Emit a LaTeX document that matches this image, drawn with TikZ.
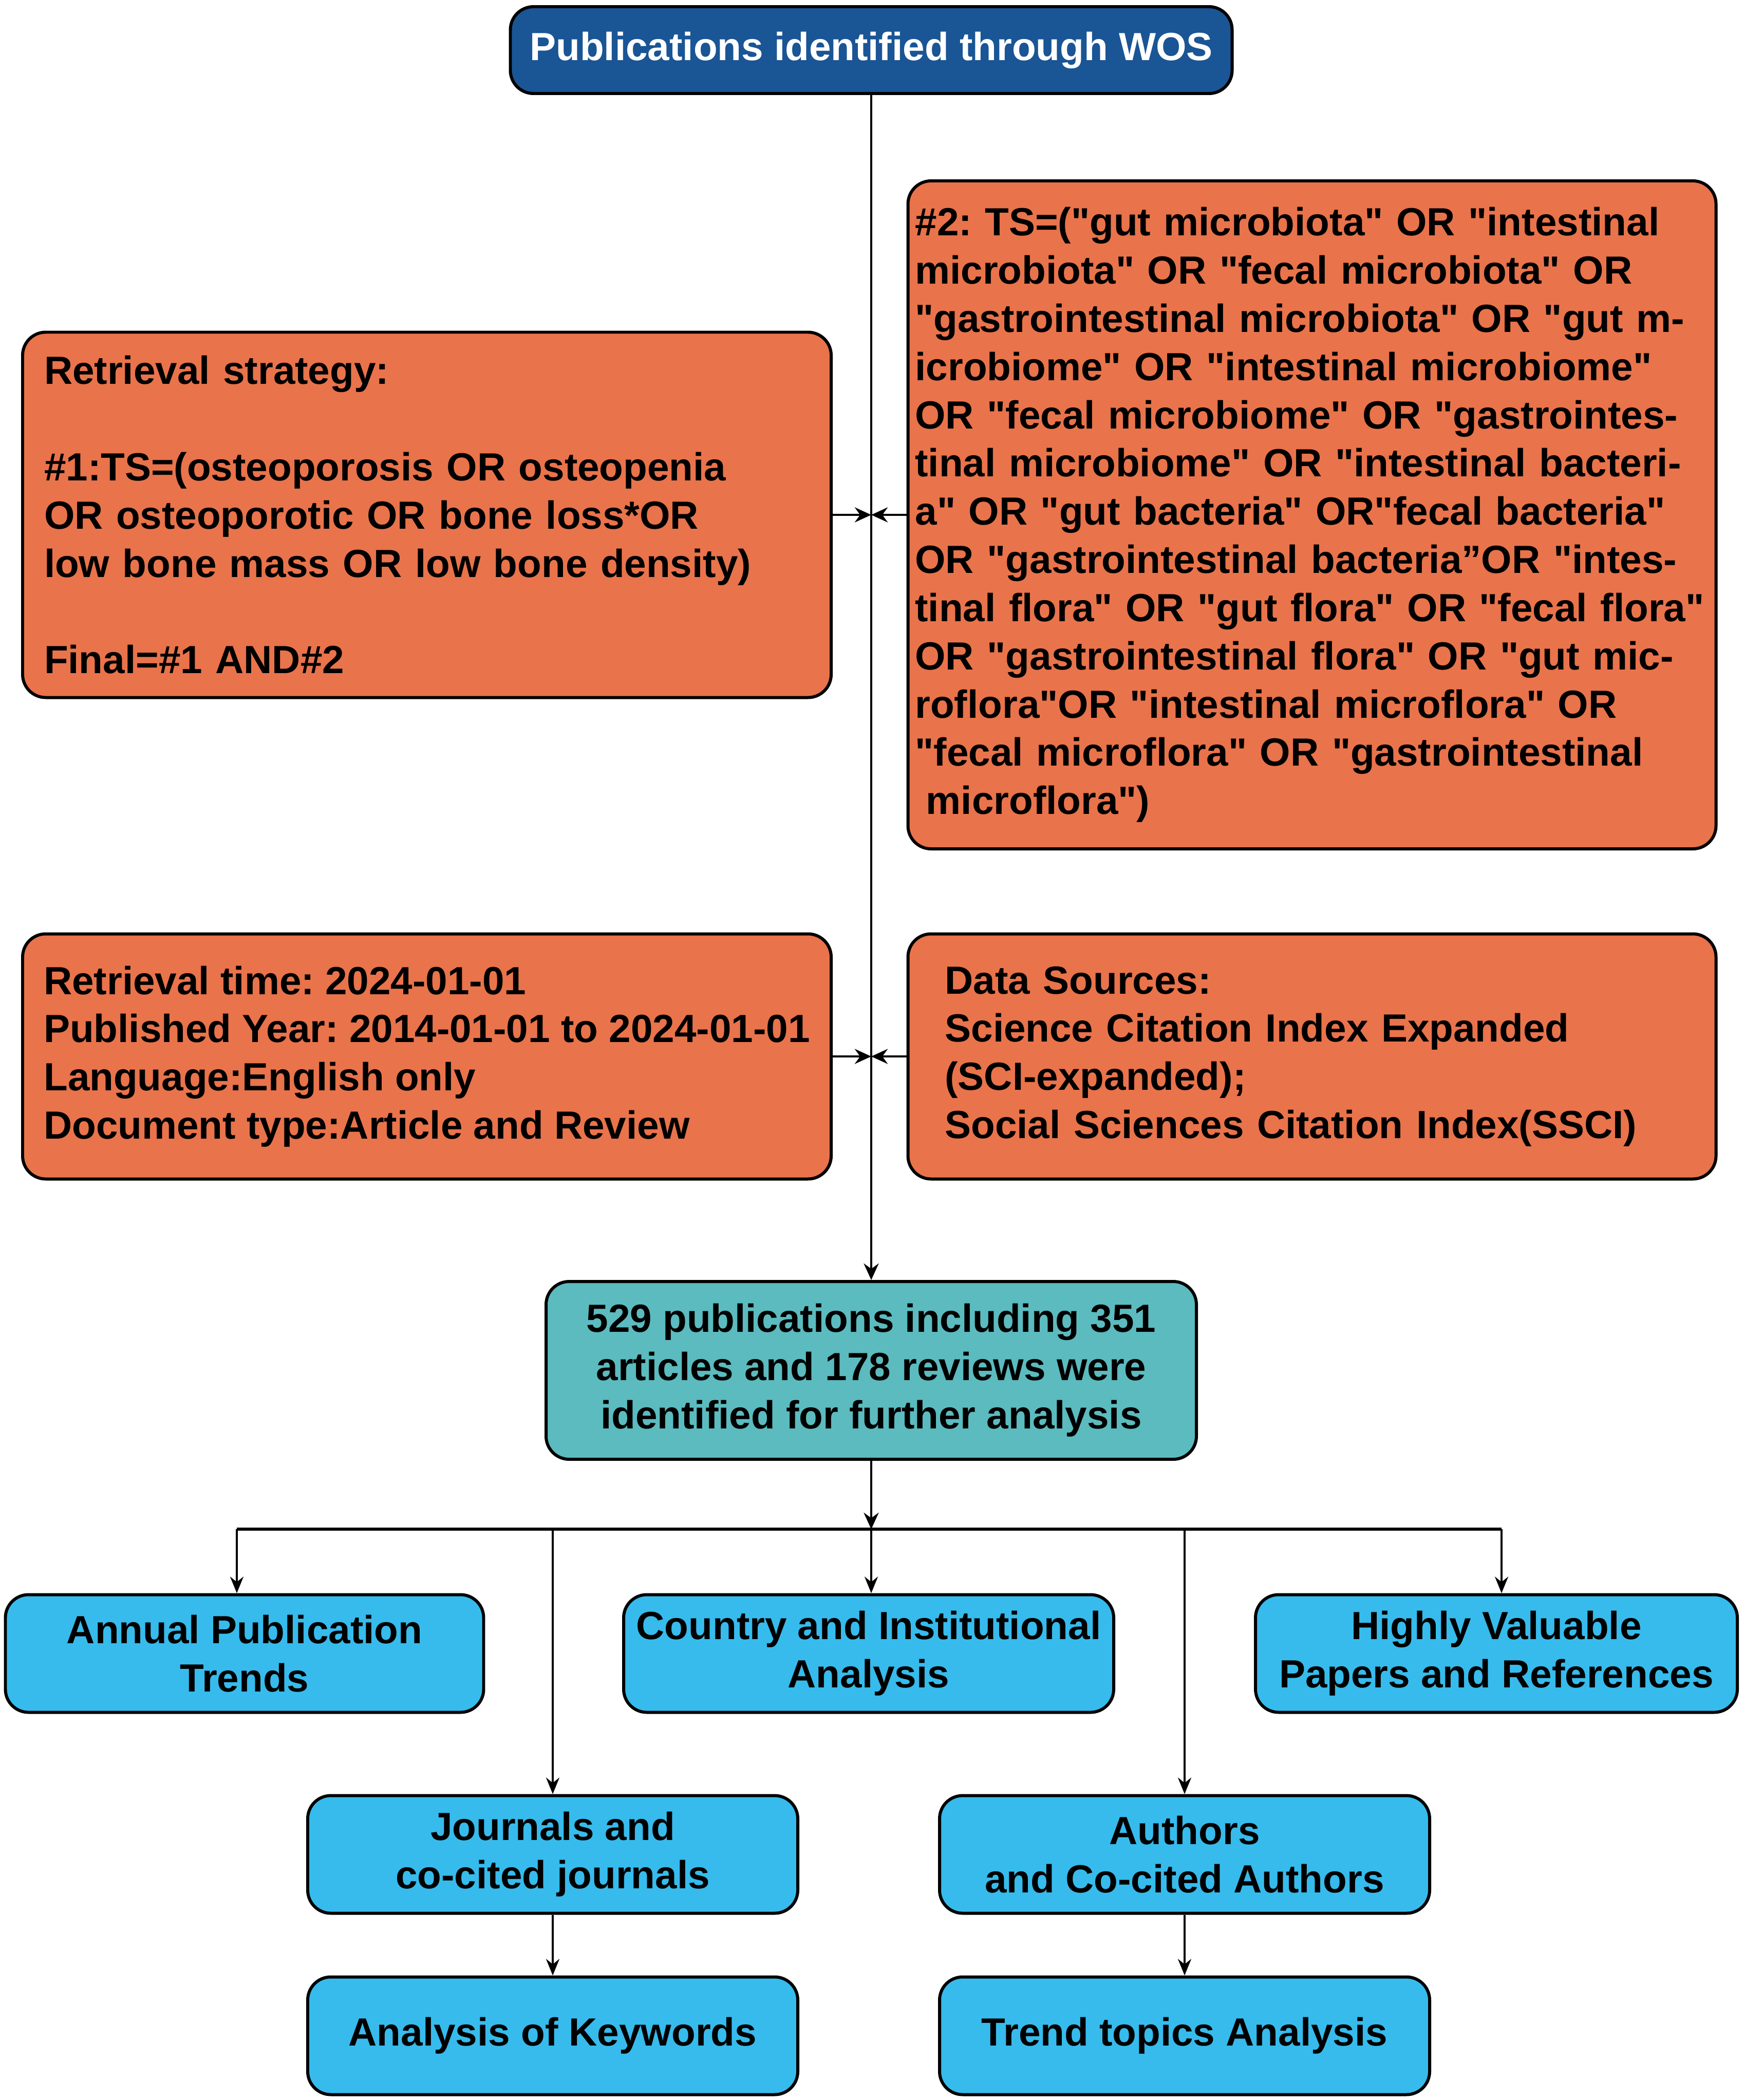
\documentclass[tikz,border=0pt]{standalone}
\usepackage{fontspec}
\newfontfamily\arialfont{Liberation Sans}
\usepackage{xcolor}
\usepackage{tikz}
\usetikzlibrary{shapes.geometric, arrows.meta, positioning, calc}
\definecolor{wosblue}{HTML}{1A5595}
\definecolor{searchorange}{HTML}{E9734B}
\definecolor{resultteal}{HTML}{5BBBBF}
\definecolor{topicblue}{HTML}{36BBEC}
\tikzstyle{basebox} = [rectangle,
rounded corners=0.45cm,
draw=black,
line width=1.7pt,
font=\arialfont\fontsize{21.75}{26.7}\selectfont\bfseries\frenchspacing]
\tikzstyle{wosbox} = [basebox,
minimum width=14.05cm,
minimum height=1.69cm,
fill=wosblue, text=white]
\tikzstyle{searchbox} = [basebox,
align=left,
inner ysep=0pt,
fill=searchorange]
\tikzstyle{resultbox} = [basebox,
minimum width=12.66cm,
minimum height=3.46cm,
align=center,
fill=resultteal]
\tikzstyle{topicbox} = [basebox,
minimum width=9.54cm,
minimum height=2.29cm,
inner sep=0pt,
align=center,
fill=topicblue]
\tikzstyle{arrow} = [line width=1.4pt,-{Stealth[length=0.32cm,width=0.29cm]}]
\tikzstyle{thinarrow} = [line width=1.1pt,-{Stealth[length=0.32cm,width=0.26cm]}]
\tikzstyle{busline} = [line width=1.6pt]

\begin{document}
\begin{tikzpicture}
                \useasboundingbox (0,0) rectangle (33.95,-40.87);
                \node (wos) [wosbox] at (16.96,-0.975) {Publications identified through WOS};
                \node (strat) [searchbox, text width=14.9cm, inner xsep=0.42cm, minimum height=7.11cm] at (8.31,-10.02)
                    {Retrieval strategy:\\[26.7pt]\#1:TS=(osteoporosis OR osteopenia\\OR osteoporotic OR bone loss*OR\\low bone mass OR low bone density)\\[26.7pt]Final=\#1 AND\#2};
                \node (query) [searchbox, text width=15.45cm, inner xsep=0.14cm, minimum height=13.0cm] at (25.54,-10.02)
                    {\#2: TS=("gut microbiota" OR "intestinal\\microbiota" OR "fecal microbiota" OR\\"gastrointestinal microbiota" OR "gut m-\\icrobiome" OR "intestinal microbiome"\\OR "fecal microbiome" OR "gastrointes-\\tinal microbiome" OR "intestinal bacteri-\\a" OR "gut bacteria" OR"fecal bacteria"\\OR "gastrointestinal bacteria”OR "intes-\\tinal flora" OR "gut flora" OR "fecal flora"\\OR "gastrointestinal flora" OR "gut mic-\\roflora"OR "intestinal microflora" OR\\"fecal microflora" OR "gastrointestinal\\\hspace*{0.28em}microflora")};
                \node (time) [searchbox, minimum width=15.74cm, minimum height=4.77cm] at (8.31,-20.56)
                    {Retrieval time: 2024-01-01\\Published Year: 2014-01-01 to 2024-01-01\\Language:English only\\Document type:Article and Review};
                \node (source) [searchbox, text width=14.29cm, inner xsep=0.72cm, minimum height=4.77cm] at (25.54,-20.56)
                    {Data Sources:\\Science Citation Index Expanded\\(SCI-expanded);\\Social Sciences Citation Index(SSCI)};
                \node (result) [resultbox] at (16.96,-26.67) {529 publications including 351\\articles and 178 reviews were\\identified for further analysis};

                \coordinate (busL) at (4.61,-29.76);
                \coordinate (busR) at (29.23,-29.76);
                \coordinate (busJ) at (10.76,-29.76);
                \coordinate (busA) at (23.06,-29.76);

                \node (annual) [topicbox, minimum width=9.31cm] at (4.76,-32.18) {Annual Publication\\Trends};
                \node (country) [topicbox] at (16.91,-32.18) {Country and Institutional\\Analysis};
                \node (highly) [topicbox, minimum width=9.38cm] at (29.13,-32.18) {Highly Valuable\\Papers and References};
                \node (journals) [topicbox] at (10.76,-36.09) {Journals and\\co-cited journals};
                \node (authors) [topicbox] at (23.06,-36.09) {Authors\\and Co-cited Authors};
                \node (keywords) [topicbox, below=1.18cm of journals] {Analysis of Keywords};
                \node (trend) [topicbox, below=1.18cm of authors] {Trend topics Analysis};

                % search part
                \draw [arrow] (wos) -- (result);
                \draw [arrow] (strat.east) -- (strat.east -| wos.south);
                \draw [arrow] (query.west) -- (query.west -| wos.south);
                \draw [arrow] (time.east) -- (time.east -| wos.south);
                \draw [arrow] (source.west) -- (source.west -| wos.south);

                % analysis part
                \draw [arrow] (result) -- (result.south |- busL);
                \draw [busline] (busL) -- (busR);
                \draw [thinarrow] (busL) -- (busL |- annual.north);
                \draw [thinarrow] (result.south |- busL) -- (country.north -| result.south);
                \draw [thinarrow] (busR) -- (busR |- highly.north);
                \draw [thinarrow] (busJ) -- (journals);
                \draw [thinarrow] (busA) -- (authors);
                \draw [thinarrow] (journals) -- (keywords);
                \draw [thinarrow] (authors) -- (trend);
            \end{tikzpicture}
\end{document}
